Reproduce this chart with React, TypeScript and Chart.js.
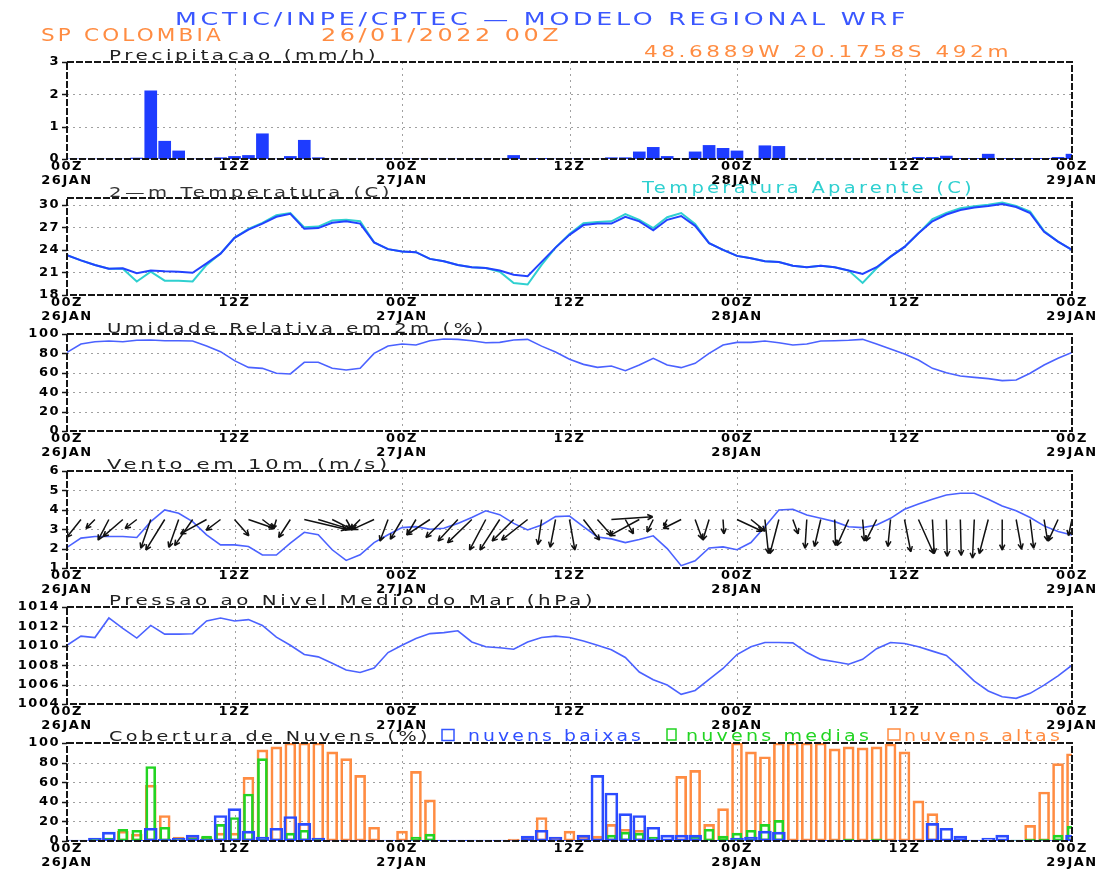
import React, { useEffect, useRef } from 'react';
import { Chart, registerables } from 'chart.js';

Chart.register(...registerables);

// ---------------- DATA (hourly, 00Z 26JAN .. 00Z 29JAN) ----------------
const hours = Array.from({ length: 73 }, (_, i) => i);

const xTickHours = [0, 12, 24, 36, 48, 60, 72];
const xTickLabels: (string | string[])[] = [
  ['00Z', '26JAN'], '12Z', ['00Z', '27JAN'], '12Z', ['00Z', '28JAN'], '12Z', ['00Z', '29JAN'],
];
const gridHours = [12, 24, 36, 48, 60];

const precipTicks = [0, 1, 2, 3];
const tempTicks = [18, 21, 24, 27, 30];
const rhTicks = [0, 20, 40, 60, 80, 100];
const windTicks = [1, 2, 3, 4, 5, 6];
const presTicks = [1004, 1006, 1008, 1010, 1012, 1014];
const cloudTicks = [0, 20, 40, 60, 80, 100];

const precip = [
  0, 0, 0, 0, 0, 0.03, 2.11, 0.55, 0.25, 0,
  0, 0.04, 0.08, 0.11, 0.78, 0, 0.08, 0.58, 0.04, 0,
  0, 0, 0, 0, 0, 0, 0, 0, 0, 0,
  0, 0, 0.11, 0, 0.02, 0, 0, 0, 0, 0.04,
  0.04, 0.22, 0.36, 0.08, 0, 0.22, 0.42, 0.33, 0.25, 0,
  0.41, 0.39, 0, 0, 0, 0, 0, 0, 0, 0,
  0, 0.05, 0.05, 0.09, 0.02, 0.02, 0.15, 0.02, 0.02, 0.02,
  0.02, 0.05, 0.15,
];

const temp2m = [
  23.3, 22.6, 22.0, 21.5, 21.55, 20.9, 21.25, 21.15, 21.1, 20.95,
  22.2, 23.5, 25.6, 26.7, 27.5, 28.4, 28.8, 26.8, 26.9, 27.6,
  27.8, 27.5, 25.0, 24.1, 23.8, 23.7, 22.8, 22.5, 22.0, 21.7,
  21.6, 21.25, 20.7, 20.5, 22.4, 24.3, 26.0, 27.3, 27.5, 27.5,
  28.4, 27.8, 26.6, 28.0, 28.5, 27.2, 24.9, 24.0, 23.2, 22.9,
  22.5, 22.4, 21.9, 21.7, 21.9, 21.7, 21.25, 20.8, 21.7, 23.1,
  24.4, 26.2, 27.8, 28.7, 29.3, 29.65, 29.85, 30.1, 29.7, 28.9,
  26.4, 25.1, 24.0,
];

const tempApparent = [
  23.3, 22.6, 22.0, 21.5, 21.5, 19.8, 21.1, 19.9, 19.9, 19.8,
  22.0, 23.5, 25.6, 26.8, 27.6, 28.6, 28.9, 27.0, 27.1, 27.9,
  28.0, 27.8, 25.0, 24.1, 23.8, 23.7, 22.8, 22.5, 22.0, 21.7,
  21.6, 21.1, 19.6, 19.4, 22.0, 24.3, 26.1, 27.55, 27.7, 27.8,
  28.75, 28.0, 26.9, 28.35, 28.9, 27.45, 24.9, 24.0, 23.2, 22.9,
  22.5, 22.4, 21.9, 21.7, 21.9, 21.7, 21.25, 19.6, 21.55, 23.1,
  24.4, 26.2, 28.1, 28.9, 29.55, 29.8, 30.0, 30.3, 29.85, 29.1,
  26.5, 25.1, 24.0,
];

const relHumidity = [
  81, 89.7, 92, 92.8, 92, 93.5, 93.8, 93.1, 93.1, 92.8,
  87.6, 81.8, 72.5, 65.6, 64.6, 59.5, 58.8, 70.8, 70.8, 64.6,
  62.9, 64.6, 80, 87.6, 89.7, 88.7, 93.1, 94.8, 94.5, 93.1,
  91, 91.4, 93.8, 94.5, 87.5, 81.5, 73.9, 68.7, 65.6, 67,
  62.2, 68, 74.9, 68, 65.3, 69.8, 80, 88.7, 91.4, 91.4,
  92.8, 91, 88.7, 89.7, 92.8, 93.1, 93.5, 94.5, 89.7, 84.5,
  79.4, 73.2, 64.6, 60.1, 56.7, 55.3, 54, 51.9, 52.6, 59.5,
  68, 74.9, 81,
];

const windSpeed = [
  2.06, 2.54, 2.62, 2.62, 2.62, 2.57, 3.39, 3.99, 3.82, 3.39,
  2.71, 2.19, 2.19, 2.11, 1.67, 1.67, 2.28, 2.84, 2.71, 1.94,
  1.39, 1.68, 2.31, 2.71, 3.08, 3.13, 3.0, 3.05, 3.3, 3.6,
  3.95, 3.75, 3.3, 2.96, 3.22, 3.65, 3.68, 3.13, 2.6, 2.5,
  2.31, 2.47, 2.66, 2.0, 1.12, 1.37, 2.03, 2.09, 1.94, 2.31,
  3.13, 3.99, 4.03, 3.73, 3.56, 3.39, 3.13, 3.08, 3.22, 3.56,
  4.03, 4.3, 4.54, 4.76, 4.85, 4.85, 4.54, 4.2, 3.95, 3.6,
  3.17, 2.88, 2.7,
];

// wind vector components (m/s), drawn as arrows
const windU = [
  -1.1, -1.6, -1.0, -1.2, -2.2, -1.3, -1.1, -2.1, -1.1, -2.0,
  -2.9, -1.6, 1.6, 2.9, 1.3, -0.3, -1.3, 4.7, 3.6, 2.2,
  0.7, -1.1, -2.4, -0.9, -1.3, -1.0, -2.6, -2.0, -2.2, -2.7,
  -1.8, -2.2, -2.4, -2.9, -0.4, -0.6, 0.6, 1.8, 1.6, 4.6,
  0.9, -3.3, -0.7, -0.4, -2.0, 0.8, -0.7, 0.1, 2.8, 1.6,
  0.4, -1.0, 0.6, -0.2, -0.7, 0.1, -1.3, 0.2, -1.2, -0.3,
  0.7, 1.7, 0.2, 0.1, 0.1, -0.2, -1.0, 0, 0.6, 0.4,
  0.4, -1.1, -0.4,
];
const windV = [
  -1.6, -2.0, -1.0, -2.3, -1.9, -1.0, -3.2, -3.4, -3.1, -2.9,
  -1.6, -1.2, -1.8, -1.0, -1.0, -1.0, -2.0, -1.1, -1.1, -1.1,
  -1.2, -1.1, -1.1, -2.4, -2.2, -1.7, -1.7, -2.0, -2.4, -2.6,
  -3.4, -3.4, -2.4, -2.3, -2.8, -3.1, -3.4, -2.3, -1.8, 0.3,
  -1.6, -1.8, -1.4, -0.7, -1.0, -2.2, -2.3, -1.6, -1.3, -1.3,
  -3.8, -3.8, -1.6, -3.2, -3.0, -2.9, -2.9, -2.4, -2.4, -3.0,
  -3.6, -3.8, -3.8, -4.1, -4.0, -4.3, -3.8, -3.4, -3.3, -3.2,
  -2.4, -2.4, -1.8,
];
const windArrowBase = 3.5;

const pressure = [
  1010.06, 1011.0, 1010.85, 1012.87, 1011.8, 1010.8, 1012.1, 1011.2, 1011.2, 1011.25,
  1012.56, 1012.87, 1012.56, 1012.7, 1012.1, 1010.9, 1010.06, 1009.1, 1008.86, 1008.2,
  1007.5, 1007.25, 1007.7, 1009.3, 1010.06, 1010.75, 1011.26, 1011.36, 1011.55, 1010.4,
  1009.9, 1009.8, 1009.65, 1010.4, 1010.85, 1011.0, 1010.85, 1010.5, 1010.06, 1009.6,
  1008.8, 1007.3, 1006.5, 1005.95, 1005.0, 1005.4, 1006.55, 1007.66, 1009.1, 1009.9,
  1010.34, 1010.34, 1010.3, 1009.3, 1008.6, 1008.35, 1008.1, 1008.6, 1009.7, 1010.34,
  1010.23, 1009.9, 1009.45, 1009.0, 1007.73, 1006.36, 1005.34, 1004.75, 1004.58, 1005.1,
  1005.95, 1006.9, 1008.0,
];

const cloudLow = [
  0, 0, 3, 9, 1, 0, 13, 2, 3, 6,
  2, 26, 33, 10, 4, 13, 25, 18, 3, 0,
  1, 0, 0, 0, 0, 0, 0, 0, 0, 0,
  0, 0, 0, 5, 11, 4, 1, 6, 67, 49,
  28, 26, 14, 6, 6, 6, 0, 0, 3, 4,
  10, 9, 0, 0, 0, 0, 0, 0, 0, 0,
  0, 0, 18, 13, 5, 1, 3, 6, 0, 0,
  0, 1, 6,
];
const cloudMid = [
  0, 0, 2, 3, 12, 11, 76, 14, 3, 3,
  5, 17, 24, 48, 84, 2, 8, 11, 2, 0,
  0, 0, 0, 0, 0, 4, 7, 0, 0, 0,
  0, 0, 0, 0, 0, 0, 0, 0, 1, 6,
  9, 8, 4, 0, 0, 5, 12, 5, 8, 11,
  17, 21, 0, 0, 0, 1, 2, 0, 2, 0,
  0, 0, 0, 0, 0, 0, 0, 0, 1, 2,
  2, 6, 15,
];
const cloudHigh = [
  0, 0, 0, 0, 10, 7, 57, 26, 4, 4,
  4, 8, 8, 65, 93, 96, 100, 100, 100, 91,
  84, 67, 14, 0, 10, 71, 42, 0, 0, 0,
  0, 0, 2, 3, 24, 3, 10, 5, 5, 17,
  12, 11, 0, 0, 66, 72, 17, 33, 100, 91,
  86, 100, 100, 100, 100, 94, 96, 95, 96, 99,
  91, 41, 28, 2, 0, 0, 0, 0, 0, 16,
  50, 79, 89,
];

// ---------------- LAYOUT / STYLE ----------------
const W = 1105;
const PLOT_LEFT = 67;
const PLOT_RIGHT = 1072;
const PAD_TOP = 12;
const X_AXIS_H = 36;
const ARROW_PX_PER_MS = 9;

const BLUE_LINE = '#4b62ff';
const TEMP_BLUE = '#2242ff';
const CYAN = '#2fd0d0';
const ORANGE = '#ff8c42';
const GREEN = '#22d422';
const TITLE_BLUE = '#3a57ff';

const pts = (arr: number[]) => arr.map((v, i) => ({ x: hours[i], y: v }));

const tickFont = { family: 'DejaVu Sans', size: 13, weight: 'bold' as const, lineHeight: 1.08 };

function drawArrow(ctx: CanvasRenderingContext2D, x0: number, y0: number, x1: number, y1: number) {
  const L = Math.hypot(x1 - x0, y1 - y0);
  if (L < 0.5) return;
  const ang = Math.atan2(y1 - y0, x1 - x0);
  const hl = Math.min(6, L * 0.45);
  ctx.beginPath();
  ctx.moveTo(x0, y0);
  ctx.lineTo(x1, y1);
  ctx.moveTo(x1, y1);
  ctx.lineTo(x1 - hl * Math.cos(ang - 0.45), y1 - hl * Math.sin(ang - 0.45));
  ctx.moveTo(x1, y1);
  ctx.lineTo(x1 - hl * Math.cos(ang + 0.45), y1 - hl * Math.sin(ang + 0.45));
  ctx.stroke();
}

function makePlugin(yTicks: number[], withArrows: boolean) {
  return {
    id: 'meteo',
    beforeDraw(chart: any) {
      chart.ctx.letterSpacing = '1.5px';
    },
    beforeDatasetsDraw(chart: any) {
      const { ctx, chartArea: a, scales } = chart;
      ctx.save();
      ctx.letterSpacing = '0px';
      ctx.strokeStyle = '#a0a0a0';
      ctx.lineWidth = 1;
      ctx.setLineDash([2, 4]);
      yTicks.forEach((v) => {
        if (v <= scales.y.min || v >= scales.y.max) return;
        const y = Math.round(scales.y.getPixelForValue(v)) + 0.5;
        ctx.beginPath();
        ctx.moveTo(a.left, y);
        ctx.lineTo(a.right, y);
        ctx.stroke();
      });
      gridHours.forEach((h) => {
        const x = Math.round(scales.x.getPixelForValue(h)) + 0.5;
        ctx.beginPath();
        ctx.moveTo(x, a.top);
        ctx.lineTo(x, a.bottom);
        ctx.stroke();
      });
      ctx.restore();
    },
    afterDatasetsDraw(chart: any) {
      const { ctx, chartArea: a, scales } = chart;
      ctx.save();
      ctx.letterSpacing = '0px';
      if (withArrows) {
        ctx.beginPath();
        ctx.rect(a.left, a.top, a.right - a.left, a.bottom - a.top);
        ctx.clip();
        ctx.strokeStyle = '#111';
        ctx.lineWidth = 1.5;
        ctx.setLineDash([]);
        const y0 = scales.y.getPixelForValue(windArrowBase);
        hours.forEach((h, i) => {
          const x0 = scales.x.getPixelForValue(h);
          drawArrow(ctx, x0, y0, x0 + windU[i] * ARROW_PX_PER_MS, y0 - windV[i] * ARROW_PX_PER_MS);
        });
      }
      ctx.restore();
      ctx.save();
      ctx.letterSpacing = '0px';
      ctx.strokeStyle = '#161616';
      ctx.lineWidth = 2;
      ctx.setLineDash([7, 2]);
      ctx.strokeRect(a.left, a.top, a.right - a.left, a.bottom - a.top);
      ctx.setLineDash([]);
      ctx.lineWidth = 1.5;
      yTicks.forEach((v) => {
        const y = Math.round(scales.y.getPixelForValue(v)) + 0.5;
        ctx.beginPath();
        ctx.moveTo(a.left - 5, y);
        ctx.lineTo(a.left, y);
        ctx.stroke();
      });
      ctx.restore();
    },
  };
}

function scalesFor(yMin: number, yMax: number, yTicks: number[]) {
  return {
    x: {
      type: 'linear',
      min: 0,
      max: 72,
      offset: false,
      afterBuildTicks: (s: any) => {
        s.ticks = xTickHours.map((v) => ({ value: v }));
      },
      afterFit: (s: any) => {
        s.height = X_AXIS_H;
        s.paddingLeft = 0;
        s.paddingRight = 0;
      },
      ticks: {
        autoSkip: false,
        maxRotation: 0,
        minRotation: 0,
        padding: 1,
        color: '#000',
        font: tickFont,
        callback: (v: number) => {
          const k = xTickHours.indexOf(v);
          return k >= 0 ? xTickLabels[k] : '';
        },
      },
      grid: { display: false, drawTicks: false },
      border: { display: false },
    },
    y: {
      type: 'linear',
      min: yMin,
      max: yMax,
      afterBuildTicks: (s: any) => {
        s.ticks = yTicks.map((v) => ({ value: v }));
      },
      afterFit: (s: any) => {
        s.width = PLOT_LEFT;
        s.paddingTop = 0;
        s.paddingBottom = 0;
      },
      ticks: { padding: 7, color: '#000', font: tickFont, callback: (v: number) => String(v) },
      grid: { display: false, drawTicks: false },
      border: { display: false },
    },
  };
}

function baseOptions(yMin: number, yMax: number, yTicks: number[]) {
  return {
    responsive: false,
    animation: false as const,
    devicePixelRatio: 1,
    events: [] as any[],
    layout: { padding: { top: PAD_TOP, right: W - PLOT_RIGHT, bottom: 0, left: 0 } },
    plugins: { legend: { display: false }, tooltip: { enabled: false }, title: { display: false } },
    scales: scalesFor(yMin, yMax, yTicks),
  };
}

const lineDs = (data: number[], color: string, width: number) => ({
  data: pts(data),
  borderColor: color,
  borderWidth: width,
  pointRadius: 0,
  tension: 0,
  fill: false,
});

type Panel = { top: number; bottom: number; config: () => any };

const panels: Panel[] = [
  {
    top: 62,
    bottom: 159,
    config: () => ({
      type: 'bar',
      data: {
        datasets: [
          { data: pts(precip), backgroundColor: '#1e3cff', borderWidth: 0, barThickness: 12 },
        ],
      },
      options: baseOptions(0, 3, precipTicks),
      plugins: [makePlugin(precipTicks, false)],
    }),
  },
  {
    top: 198,
    bottom: 295,
    config: () => ({
      type: 'line',
      data: {
        datasets: [lineDs(temp2m, TEMP_BLUE, 2), lineDs(tempApparent, CYAN, 2)],
      },
      options: baseOptions(18, 30.9, tempTicks),
      plugins: [makePlugin(tempTicks, false)],
    }),
  },
  {
    top: 334,
    bottom: 431,
    config: () => ({
      type: 'line',
      data: { datasets: [lineDs(relHumidity, BLUE_LINE, 1.6)] },
      options: baseOptions(0, 100, rhTicks),
      plugins: [makePlugin(rhTicks, false)],
    }),
  },
  {
    top: 471,
    bottom: 568,
    config: () => ({
      type: 'line',
      data: { datasets: [lineDs(windSpeed, BLUE_LINE, 1.6)] },
      options: baseOptions(1, 6, windTicks),
      plugins: [makePlugin(windTicks, true)],
    }),
  },
  {
    top: 607,
    bottom: 704,
    config: () => ({
      type: 'line',
      data: { datasets: [lineDs(pressure, BLUE_LINE, 1.6)] },
      options: baseOptions(1004, 1014, presTicks),
      plugins: [makePlugin(presTicks, false)],
    }),
  },
  {
    top: 743,
    bottom: 841,
    config: () => ({
      type: 'bar',
      data: {
        datasets: [
          {
            data: pts(cloudLow),
            backgroundColor: 'rgba(0,0,0,0)',
            borderColor: '#2b4bff',
            borderWidth: 2,
            borderSkipped: false,
            barThickness: 13,
            minBarLength: 1,
            grouped: false,
          },
          {
            data: pts(cloudMid),
            backgroundColor: 'rgba(0,0,0,0)',
            borderColor: GREEN,
            borderWidth: 2,
            borderSkipped: false,
            barThickness: 10,
            grouped: false,
          },
          {
            data: pts(cloudHigh),
            backgroundColor: 'rgba(0,0,0,0)',
            borderColor: ORANGE,
            borderWidth: 2,
            borderSkipped: false,
            barThickness: 11,
            grouped: false,
          },
        ],
      },
      options: baseOptions(0, 100, cloudTicks),
      plugins: [makePlugin(cloudTicks, false)],
    }),
  },
];

const canvasHeight = (p: Panel) => PAD_TOP + (p.bottom - p.top) + X_AXIS_H;

type TxtProps = {
  x: number;
  y: number;
  size: number;
  len: number;
  fill: string;
  children: string;
};
const Txt = ({ x, y, size, len, fill, children }: TxtProps) => (
  <text
    x={x}
    y={y}
    fontFamily="'DejaVu Sans', sans-serif"
    fontSize={size}
    fill={fill}
    textLength={len}
    lengthAdjust="spacingAndGlyphs"
    style={{ letterSpacing: '2.5px' }}
  >
    {children}
  </text>
);

export default function App() {
  const canvases = useRef<(HTMLCanvasElement | null)[]>([]);

  useEffect(() => {
    const charts: Chart[] = [];
    panels.forEach((p, i) => {
      const c = canvases.current[i];
      if (c) charts.push(new Chart(c, p.config()));
    });
    return () => charts.forEach((ch) => ch.destroy());
  }, []);

  return (
    <div
      style={{
        position: 'absolute',
        left: 0,
        top: 0,
        width: W,
        height: 869,
        background: '#fff',
        overflow: 'hidden',
      }}
    >
      {panels.map((p, i) => (
        <canvas
          key={i}
          ref={(el) => {
            canvases.current[i] = el;
          }}
          width={W}
          height={canvasHeight(p)}
          style={{
            position: 'absolute',
            left: 0,
            top: p.top - PAD_TOP,
            width: W,
            height: canvasHeight(p),
          }}
        />
      ))}
      <svg
        width={W}
        height={869}
        style={{ position: 'absolute', left: 0, top: 0, pointerEvents: 'none' }}
      >
        <Txt x={175} y={25} size={17} len={734} fill={TITLE_BLUE}>
          MCTIC/INPE/CPTEC — MODELO REGIONAL WRF
        </Txt>
        <Txt x={41} y={40.5} size={17} len={183} fill={ORANGE}>
          SP COLOMBIA
        </Txt>
        <Txt x={321} y={40.5} size={17} len={241} fill={ORANGE}>
          26/01/2022 00Z
        </Txt>
        <Txt x={644} y={57} size={15} len={368} fill={ORANGE}>
          48.6889W 20.1758S 492m
        </Txt>
        <Txt x={109} y={59.5} size={14} len={270} fill="#222">
          Precipitacao (mm/h)
        </Txt>
        <Txt x={109} y={196.5} size={14} len={284} fill="#333">
          2—m Temperatura (C)
        </Txt>
        <Txt x={642} y={193} size={15} len={333} fill={CYAN}>
          Temperatura Aparente (C)
        </Txt>
        <Txt x={107} y={332.5} size={14} len={380} fill="#222">
          Umidade Relativa em 2m (%)
        </Txt>
        <Txt x={107} y={469} size={14} len={284} fill="#222">
          Vento em 10m (m/s)
        </Txt>
        <Txt x={109} y={604.5} size={14} len={487} fill="#222">
          Pressao ao Nivel Medio do Mar (hPa)
        </Txt>
        <Txt x={109} y={740.5} size={14} len={322} fill="#222">
          Cobertura de Nuvens (%)
        </Txt>
        <rect x={442} y={729.5} width={12} height={11} fill="none" stroke="#3355ff" strokeWidth={1.5} />
        <Txt x={468} y={740.5} size={15} len={176} fill="#2f4fff">
          nuvens baixas
        </Txt>
        <rect x={667} y={729} width={9} height={11} fill="none" stroke={GREEN} strokeWidth={1.5} />
        <Txt x={686} y={740.5} size={15} len={186} fill={GREEN}>
          nuvens medias
        </Txt>
        <rect x={888} y={729} width={12} height={11} fill="none" stroke={ORANGE} strokeWidth={1.5} />
        <Txt x={904} y={740.5} size={15} len={159} fill={ORANGE}>
          nuvens altas
        </Txt>
      </svg>
    </div>
  );
}
